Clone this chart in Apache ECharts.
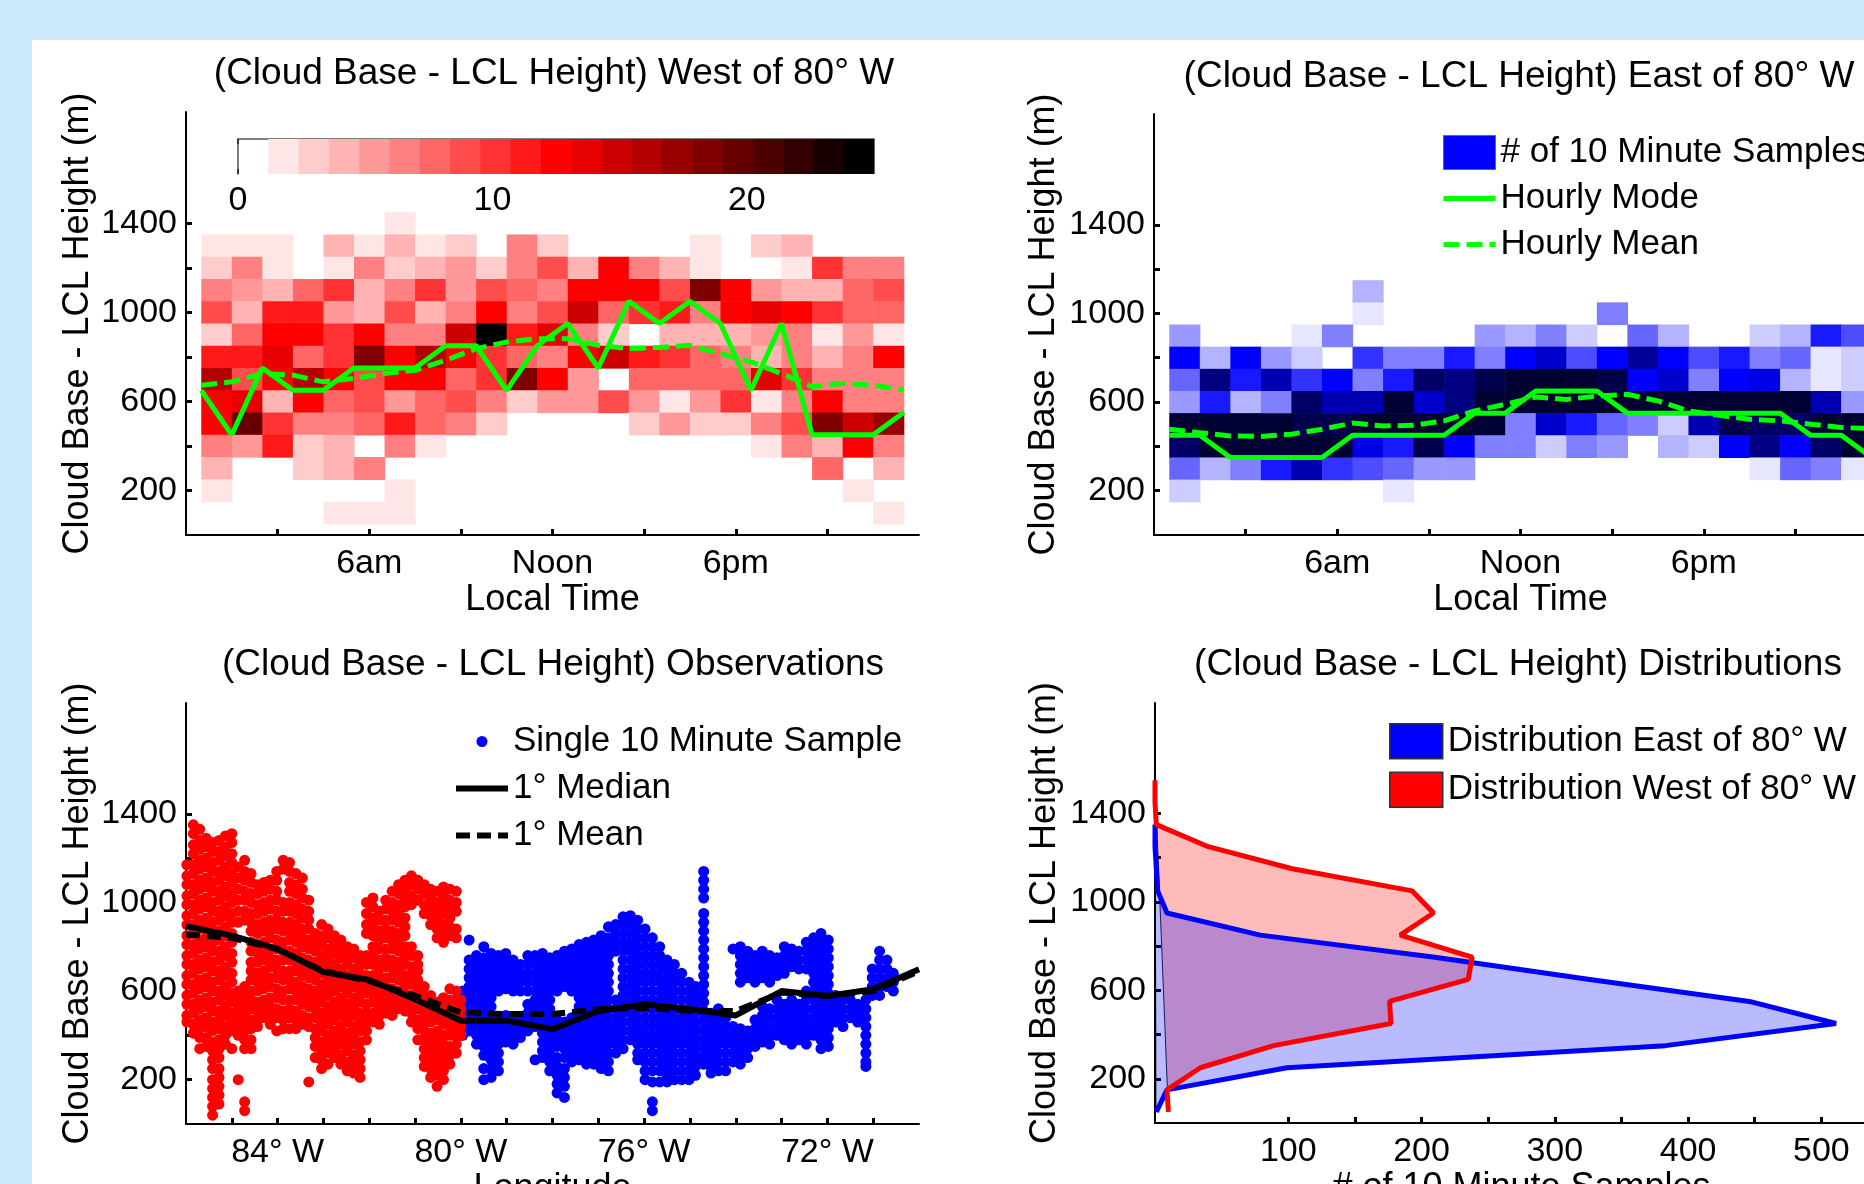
<!DOCTYPE html>
<html><head><meta charset="utf-8">
<script src="https://cdn.jsdelivr.net/npm/echarts@6/dist/echarts.min.js"></script>
<style>
html,body{margin:0;padding:0;width:1864px;height:1184px;overflow:hidden;background:#cceafb;}
#panel{position:absolute;left:32px;top:40px;right:0;bottom:0;background:#fff;}
#chart{position:absolute;left:0;top:0;width:1864px;height:1184px;}
</style></head><body><div id="panel"></div><div id="chart"></div>
<script>
// ---------- DATA ----------
const hourCenters = [1,2,3,4,5,6,7,8,9,10,11,12,13,14,15,16,17,18,19,20,21,22,23];
const heightBins = [1400,1300,1200,1100,1000,900,800,700,600,500,400,300,200,100];
// counts of 10-minute samples per (height bin row, hour column), West of 80W
const westCounts = [
 [0,0,0,0,0,0,2,0,0,0,0,0,0,0,0,0,0,0,0,0,0,0,0],
 [2,2,2,0,4,2,4,2,3,0,7,3,0,0,0,0,2,0,3,4,0,0,0],
 [3,7,2,0,2,7,3,4,5,3,7,9,4,13,7,4,2,0,0,2,10,7,7],
 [7,5,4,8,10,4,7,10,5,9,8,7,13,13,13,9,18,13,5,4,4,8,9],
 [9,4,11,11,5,4,9,4,7,13,7,9,15,8,10,11,7,13,14,13,10,8,8],
 [3,8,13,13,10,13,7,7,15,25,11,14,7,3,0,4,4,4,5,7,2,5,2],
 [11,11,14,8,10,18,13,16,13,10,8,7,13,15,11,10,8,7,4,7,4,7,13],
 [16,9,13,16,13,9,13,13,8,10,18,13,5,0,8,8,8,8,14,10,7,7,7],
 [13,14,4,13,8,9,5,8,9,7,3,5,5,9,5,2,5,10,2,7,13,7,7],
 [13,20,10,7,7,8,11,8,7,3,0,0,0,0,3,5,3,3,7,9,18,15,17],
 [7,5,11,3,4,0,7,2,0,0,0,0,0,0,0,0,0,0,2,7,4,13,7],
 [4,0,0,3,4,7,0,0,0,0,0,0,0,0,0,0,0,0,0,0,8,0,4],
 [2,0,0,0,0,0,2,0,0,0,0,0,0,0,0,0,0,0,0,0,0,2,0],
 [0,0,0,0,2,2,2,0,0,0,0,0,0,0,0,0,0,0,0,0,0,0,2]
];
// East of 80W
const eastCounts = [
 [0,0,0,0,0,0,0,0,0,0,0,0,0,0,0,0,0,0,0,0,0,0,0],
 [0,0,0,0,0,0,0,0,0,0,0,0,0,0,0,0,0,0,0,0,0,0,0],
 [0,0,0,0,0,0,0,0,0,0,0,0,0,0,0,0,0,0,0,0,0,0,0],
 [0,0,0,0,0,0,4,0,0,0,0,0,0,0,0,0,0,0,0,0,0,0,0],
 [0,0,0,0,0,0,2,0,0,0,0,0,0,0,7,0,0,0,0,0,0,0,0],
 [5,0,0,0,2,7,0,0,0,0,5,4,7,3,0,8,4,0,0,3,4,11,9],
 [13,4,13,5,3,0,10,7,7,11,7,13,15,9,13,17,13,9,11,7,8,2,3],
 [8,18,11,16,10,13,7,11,20,18,21,22,22,22,21,13,15,7,13,14,4,2,3],
 [5,11,4,7,20,16,16,22,15,18,22,22,22,22,22,22,22,22,22,22,22,16,5],
 [22,22,22,22,21,21,22,22,22,22,22,7,15,11,8,7,3,16,21,20,20,22,22],
 [20,22,22,22,22,22,14,11,21,13,7,7,3,7,5,0,4,3,13,18,13,20,22],
 [8,4,7,11,16,10,9,8,5,5,0,0,0,0,0,0,0,0,0,2,8,7,2],
 [3,0,0,0,0,0,0,2,0,0,0,0,0,0,0,0,0,0,0,0,0,0,0],
 [0,0,0,0,0,0,0,0,0,0,0,0,0,0,0,0,0,0,0,0,0,0,0]
];
const lineHours = [0.5,1.5,2.5,3.5,4.5,5.5,6.5,7.5,8.5,9.5,10.5,11.5,12.5,13.5,14.5,15.5,16.5,17.5,18.5,19.5,20.5,21.5,22.5,23.5];
const westMode = [650,450,750,650,650,750,750,750,850,850,650,850,950,750,1050,950,1050,950,650,950,450,450,450,550];
const westMean = [673,688,725,718,688,703,725,740,785,837,867,882,882,852,837,842,852,815,778,725,666,681,673,651];
const eastMode = [450,450,350,350,350,350,450,450,450,450,550,550,650,650,650,550,550,550,550,550,550,450,450,350];
const eastMean = [477,462,447,445,455,477,505,492,495,515,560,590,623,612,627,635,605,560,540,522,515,500,485,480];
const timeTickValues = [6,12,18];
const timeTickLabels = ['6am','Noon','6pm'];
const colorbarTicks = [0,10,20];
const colorLevels = [0,1,2,3,4,5,6,7,8,9,10,11,12,13,14,15,16,17,18,19,20];
const lonNodes = [-86,-85,-84,-83,-82,-81,-80,-79,-78,-77,-76,-75,-74,-73,-72,-71,-70];
const lonMedian = [893,850,790,686,650,563,466,466,428,510,540,518,490,600,578,608,698];
const lonMean = [855,840,788,690,645,578,503,496,496,518,525,510,510,593,578,600,690];
const lonLabelValues = [-84,-80,-76,-72];
// single 10-minute samples: [longitude, [heights...]]
const westObs = [
 [-85.98,[1170,1120,1080,1030,990,940,900,850,810,760,720,670,630,580,540,490,460]],
 [-85.84,[1350,1310,1260,1220,1170,1130,1080,1040,990,950,900,860,810,770,720,680,630,590,540,500,450,410]],
 [-85.70,[1330,1280,1240,1190,1150,1100,1060,1010,970,920,880,830,790,740,700,650,610,560,520,470,430,390,340]],
 [-85.56,[1290,1250,1200,1160,1110,1070,1020,980,930,890,840,800,750,710,660,620,570,530,480,440,390,350]],
 [-85.42,[1270,1230,1180,1140,1090,1050,1000,960,910,870,820,780,730,690,640,600,550,510,460,420,370,330,290,250,200,160,120,80,40]],
 [-85.28,[1280,1230,1190,1140,1100,1050,1010,960,920,870,830,780,740,690,650,600,560,510,470,430,380,340,300,250,210,170,130,90]],
 [-85.14,[1300,1250,1210,1160,1120,1070,1030,980,940,890,850,800,760,710,670,620,580,530,490,440,400,360]],
 [-85.00,[1310,1270,1220,1180,1130,1090,1040,1000,950,910,860,820,770,730,680,640,590,550,500,460,420,340]],
 [-84.86,[1160,1110,1060,1010,960,910,600,560,520,480,440,400,200]],
 [-84.72,[1190,1140,1100,1050,1010,960,920,620,580,540,500,460,420,380,340,100,60]],
 [-84.58,[1130,1090,1040,1000,950,910,870,820,780,730,690,650,600,560,520,470,430,380,340]],
 [-84.44,[1080,1040,990,950,900,860,810,770,730,680,640,600,550,510,470,440]],
 [-84.30,[1090,1050,1000,960,910,870,820,780,740,690,650,610,560,520,480]],
 [-84.16,[1100,1060,1010,970,920,880,840,790,750,710,660,620,570,530,490,450]],
 [-84.02,[1140,1100,1050,1010,960,920,880,830,790,740,700,660,610,570,520,480,420]],
 [-83.88,[1190,1150,1000,960,910,870,820,780,740,690,650,600,560,510,470,430]],
 [-83.74,[1180,1140,1090,1050,1000,960,910,870,830,780,740,690,650,610,560,520,480,430]],
 [-83.60,[1130,1080,1040,990,950,900,860,820,770,730,690,640,600,560,510,470,430]],
 [-83.46,[1110,1060,1020,970,930,880,840,800,750,710,670,620,580,540,490,450]],
 [-83.32,[1010,960,920,880,830,790,740,700,660,610,570,530,480,440,190]],
 [-83.18,[860,820,780,730,690,650,600,560,520,480,430,390,350,300]],
 [-83.04,[900,850,810,760,720,680,630,590,550,500,460,420,370,330,290,250]],
 [-82.90,[880,840,790,750,710,660,620,580,530,490,450,400,360,320,270]],
 [-82.76,[850,810,770,720,680,640,600,550,510,470,420,380,340,300]],
 [-82.62,[830,790,750,700,660,620,570,530,490,440,400,360,310,270]],
 [-82.48,[800,760,720,670,630,590,540,500,460,410,370,330,280,240]],
 [-82.34,[790,750,700,660,620,570,530,490,440,400,360,310,270,230]],
 [-82.20,[760,720,680,630,590,550,500,460,420,370,330,290,250,210]],
 [-82.06,[1000,950,900,860,760,720,670,630,590,540,500,460,420,380]],
 [-81.92,[1020,980,930,890,850,800,760,720,670,630,590,550,500,460]],
 [-81.78,[960,920,870,830,790,740,700,660,610,570,530,490,450]],
 [-81.64,[1010,970,920,880,840,790,750,710,660,620,580,540,500]],
 [-81.50,[1050,1000,960,920,870,830,790,740,700,660,610,570,530,490]],
 [-81.36,[1080,1040,990,950,910,860,820,780,730,690,650,600,560,520]],
 [-81.22,[1100,1060,1020,980,930,890,850,800,760,720,670,630,590,550,510]],
 [-81.08,[1120,1080,1030,990,800,760,710,670,630,580,540,500,460]],
 [-80.94,[1100,1060,1010,760,720,690,650,610,560,520,470,430,380]],
 [-80.80,[1080,1040,990,950,620,580,540,500,460,420,380,340,300,260]],
 [-80.66,[1060,1020,980,940,900,580,540,500,460,410,370,330,290,250,210]],
 [-80.52,[1050,1000,960,920,880,840,550,510,470,420,380,340,300,260,220,170]],
 [-80.38,[1070,1030,990,950,900,860,820,570,530,490,450,400,360,320,280,240,200]],
 [-80.24,[1060,1010,970,930,890,850,610,560,520,480,440,400,350,310,270]],
 [-80.10,[1050,1000,960,880,840,600,560,520,480,440,400,360,320]],
 [-80.00,[560,520,480,440,400]]
];
const eastObs = [
 [-79.96,[600,560,520,480,440,400]],
 [-79.82,[830,740,700,660,620,580,540,500,460,420]],
 [-79.66,[760,720,680,640,600,560,520,480,440,400,360]],
 [-79.50,[800,750,710,670,630,590,550,510,470,430,390,350,310,250,200]],
 [-79.34,[770,730,690,650,610,570,530,490,450,410,370,330,290,250,210]],
 [-79.18,[760,720,680,640,600,480,440,400,360,320,280,240]],
 [-79.02,[770,730,690,650,610,490,450,410,370]],
 [-78.86,[740,700,660,620,600,480,440,400,360]],
 [-78.70,[720,680,640,600,470,430,390]],
 [-78.54,[760,720,680,640,600,540,500,460,420]],
 [-78.38,[760,720,680,640,600,560,520,480,440,290]],
 [-78.22,[770,730,690,650,610,570,530,490,450,410,370,330,300]],
 [-78.06,[750,710,670,630,600,560,520,480,440,400,360,320,280,240]],
 [-77.90,[760,720,680,640,600,470,430,390,350,300,260,220,180,140]],
 [-77.74,[780,740,700,660,620,460,420,380,340,300,250,210,170,120]],
 [-77.58,[790,750,710,670,630,600,480,440,400,360,320,280]],
 [-77.42,[810,770,730,690,650,610,570,530,490,450,410,370,330,290]],
 [-77.26,[820,780,740,700,660,620,580,540,500,460,420,380,340,300,270]],
 [-77.10,[830,790,750,710,670,630,590,550,510,470,430,390,350,310,270]],
 [-76.94,[850,810,770,730,690,650,610,570,530,490,450,410,370,330,290,250]],
 [-76.78,[890,840,800,760,720,680,640,600,560,520,480,440,400,360,320,280,240]],
 [-76.62,[900,860,820,780,560,520,480,440,400,360,320]],
 [-76.46,[935,900,860,820,780,740,700,660,620,580,540,500,460,420,380,340]],
 [-76.30,[940,900,860,820,780,740,700,660,620,580,540,500,460,420,380]],
 [-76.14,[920,880,840,800,760,720,680,640,600,560,520,480,440,400,360,320,290]],
 [-75.98,[880,840,800,760,720,680,640,600,560,520,480,440,400,360,320,280,240,200]],
 [-75.82,[840,800,760,720,680,640,600,560,520,480,440,400,360,320,280,240,190,100,60]],
 [-75.66,[800,760,720,680,640,600,560,520,480,440,400,360,320,280,240,190]],
 [-75.50,[740,700,660,620,580,540,500,460,420,380,340,300,260,220,190]],
 [-75.34,[720,680,640,600,560,520,480,440,400,360,320,280,240,200]],
 [-75.18,[680,640,600,560,520,480,440,400,360,320,280,240,200]],
 [-75.02,[640,600,560,520,480,440,400,360,320,280,240,200]],
 [-74.88,[620,580,540,500,460,420,380,340,300,260,220]],
 [-74.70,[1140,1100,1060,1020,950,910,870,830,790,750,710,670,630,590,550,510,470,430,390,350,310,270]],
 [-74.54,[500,460,420,380,340,300,260,230]],
 [-74.38,[520,480,440,400,360,320,280,240]],
 [-74.22,[480,440,400,360,320,280,240]],
 [-74.06,[790,440,400,360,320,280]],
 [-73.90,[800,760,720,680,640,430,390,350,310,270]],
 [-73.74,[780,740,700,660,420,380,340,300]],
 [-73.58,[760,720,680,640,470,430,390,350]],
 [-73.42,[780,740,700,660,530,490,450,410,370]],
 [-73.26,[760,720,680,640,520,480,440,400,360]],
 [-73.10,[750,710,670,560,520,480,440,400]],
 [-72.94,[800,760,720,680,540,500,460,420,380]],
 [-72.78,[790,750,710,560,520,480,440,400,360]],
 [-72.62,[780,740,700,540,500,460,420,380]],
 [-72.46,[820,780,740,700,600,560,520,480,440,400,360]],
 [-72.30,[840,800,760,720,680,640,600,560,520,480,440,400]],
 [-72.14,[860,820,780,740,700,660,620,580,540,500,460,420,380,340]],
 [-71.98,[830,790,750,710,670,630,590,550,510,470,430,390,350]],
 [-71.82,[580,540,500,460]],
 [-71.66,[560,520,480,440]],
 [-71.50,[560,520,480]],
 [-71.34,[540,500,460]],
 [-71.16,[560,520,480,440,400,360,320,280,260]],
 [-71.02,[700,660,620,580]],
 [-70.86,[780,740,700,660,620,580]],
 [-70.70,[740,700,660,620]],
 [-70.56,[680,640,600]]
];
const distBins = [50,150,250,350,450,550,650,750,850,950,1050,1150,1250,1350,1450,1550];
const distWest = [10,9,34,89,177,176,235,238,184,209,193,103,40,1,0,0];
const distEast = [1,9,99,383,511,446,325,210,79,9,2,1,0,0];

// ---------- STYLE / HELPERS ----------
const FF = 'Liberation Sans, Arial, sans-serif';
const CMAX = 25, NLEV = 21, HOUR_HALF = 0.5, BIN_HALF = 50;
function level(c){ return Math.min(NLEV-1, Math.floor(c*NLEV/CMAX)); }
function redColor(L){ if(L<=10){const v=Math.round(255*(1-L/10));return 'rgb(255,'+v+','+v+')';} const r=Math.round(255*(1-(L-10)/10)); return 'rgb('+r+',0,0)'; }
function blueColor(L){ if(L<=10){const v=Math.round(255*(1-L/10));return 'rgb('+v+','+v+',255)';} const b=Math.max(51,Math.round(255-(L-10)*25.5)); return 'rgb(0,0,'+b+')'; }

function cells(matrix){
  const out=[];
  matrix.forEach((row,ri)=>row.forEach((c,ci)=>{ if(c>0) out.push([hourCenters[ci], heightBins[ri], c]); }));
  return out;
}
function cellRender(colorFn){
  return function(params, api){
    const x=api.value(0), y=api.value(1), c=api.value(2);
    const p0=api.coord([x-HOUR_HALF, y+BIN_HALF]), p1=api.coord([x+HOUR_HALF, y-BIN_HALF]);
    return {type:'rect', shape:{x:p0[0], y:p0[1], width:p1[0]-p0[0]+0.6, height:p1[1]-p0[1]+0.6}, style:{fill:colorFn(level(c))}};
  };
}
function flatten(cols){ const out=[]; cols.forEach(([lon,hs])=>hs.forEach(h=>out.push([lon,h]))); return out; }
function zip(xs, ys){ return ys.map((y,i)=>[xs[i], y]); }
const westPoly = distWest.map((c,i)=>[c, distBins[i]]);
const eastPoly = distEast.map((c,i)=>[c, distBins[i]]);
function polyRender(points, fill, stroke){
  return function(params, api){
    if(params.dataIndex!==0) return null;
    return {type:'polygon', shape:{points:points.map(p=>api.coord(p))}, style:{fill:fill, stroke:stroke, lineWidth:1}};
  };
}

const yTickVals=[200,400,600,800,1000,1200,1400], yLabelVals=[200,600,1000,1400];
function yAx(gi, gap){
  return {gridIndex:gi, type:'value', min:0, max:1900, interval:100,
    name:'Cloud Base - LCL Height (m)', nameLocation:'middle', nameGap:gap, nameRotate:90,
    nameTextStyle:{fontSize:36, color:'#000', fontFamily:FF},
    axisLine:{show:true, onZero:false, lineStyle:{color:'#000', width:2}},
    axisTick:{show:true, inside:true, length:6, lineStyle:{color:'#000', width:3}, customValues:yTickVals},
    axisLabel:{show:true, customValues:yLabelVals, fontSize:34, color:'#000', margin:9, fontFamily:FF, formatter:v=>String(v)},
    splitLine:{show:false}};
}
function timeAx(gi){
  return {gridIndex:gi, type:'value', min:0, max:24, interval:3,
    name:'Local Time', nameLocation:'middle', nameGap:47, nameTextStyle:{fontSize:36, color:'#000', fontFamily:FF},
    axisLine:{show:true, onZero:false, lineStyle:{color:'#000', width:2}},
    axisTick:{show:true, inside:true, length:6, lineStyle:{color:'#000', width:3}, customValues:[3,6,9,12,15,18,21]},
    axisLabel:{show:true, customValues:timeTickValues, fontSize:34, color:'#000', margin:12, fontFamily:FF,
      formatter:v=>{const i=timeTickValues.indexOf(v); return i>=0?timeTickLabels[i]:'';}},
    splitLine:{show:false}};
}
const lonTicks=[-85,-84,-83,-82,-81,-80,-79,-78,-77,-76,-75,-74,-73,-72,-71];
const noDot = {color:'rgba(0,0,0,0)', borderColor:'rgba(0,0,0,0)', borderWidth:0};

const option = {
  animation:false,
  textStyle:{fontFamily:FF},
  graphic:[
    {type:'text', x:554, y:74, style:{text:'(Cloud Base - LCL Height) West of 80° W', fontSize:37, fontFamily:FF, fill:'#000', align:'center', verticalAlign:'middle'}},
    {type:'text', x:1519, y:77, style:{text:'(Cloud Base - LCL Height) East of 80° W', fontSize:37, fontFamily:FF, fill:'#000', align:'center', verticalAlign:'middle'}},
    {type:'text', x:553, y:665, style:{text:'(Cloud Base - LCL Height) Observations', fontSize:37, fontFamily:FF, fill:'#000', align:'center', verticalAlign:'middle'}},
    {type:'text', x:1518, y:665, style:{text:'(Cloud Base - LCL Height) Distributions', fontSize:37, fontFamily:FF, fill:'#000', align:'center', verticalAlign:'middle'}}
  ],
  grid:[
    {left:186, top:112, width:733, height:423, outerBoundsMode:'none', containLabel:false},
    {left:1154, top:114, width:733, height:421, outerBoundsMode:'none', containLabel:false},
    {left:186, top:703, width:733, height:421, outerBoundsMode:'none', containLabel:false},
    {left:1155, top:703, width:733, height:420, outerBoundsMode:'none', containLabel:false},
    {left:238, top:139, width:636, height:35, outerBoundsMode:'none', containLabel:false}
  ],
  xAxis:[
    timeAx(0),
    timeAx(1),
    {gridIndex:2, type:'value', min:-86, max:-70, interval:1,
      name:'Longitude', nameLocation:'middle', nameGap:47, nameTextStyle:{fontSize:36, color:'#000', fontFamily:FF},
      axisLine:{show:true, onZero:false, lineStyle:{color:'#000', width:2}},
      axisTick:{show:true, inside:true, length:6, lineStyle:{color:'#000', width:3}, customValues:lonTicks},
      axisLabel:{show:true, customValues:lonLabelValues, fontSize:34, color:'#000', margin:12, fontFamily:FF, formatter:v=>Math.abs(v)+'° W'},
      splitLine:{show:false}},
    {gridIndex:3, type:'value', min:0, max:550, interval:50,
      name:'# of 10 Minute Samples', nameLocation:'middle', nameGap:47, nameTextStyle:{fontSize:36, color:'#000', fontFamily:FF},
      axisLine:{show:true, onZero:false, lineStyle:{color:'#000', width:2}},
      axisTick:{show:true, inside:true, length:6, lineStyle:{color:'#000', width:3}, customValues:[100,150,200,250,300,350,400,450,500]},
      axisLabel:{show:true, customValues:[100,200,300,400,500], fontSize:34, color:'#000', margin:12, fontFamily:FF},
      splitLine:{show:false}},
    {gridIndex:4, type:'value', min:0, max:CMAX, position:'bottom',
      axisLine:{show:false},
      axisTick:{show:true, inside:true, length:5, lineStyle:{color:'#222', width:1.5}, customValues:colorbarTicks},
      axisLabel:{show:true, customValues:colorbarTicks, fontSize:34, color:'#000', margin:10, fontFamily:FF},
      splitLine:{show:false}},
    {gridIndex:4, type:'value', min:0, max:CMAX, position:'top',
      axisLine:{show:true, lineStyle:{color:'#555', width:1.5}},
      axisTick:{show:true, inside:true, length:5, lineStyle:{color:'#222', width:1.5}, customValues:colorbarTicks},
      axisLabel:{show:false}, splitLine:{show:false}}
  ],
  yAxis:[
    yAx(0, 90), yAx(1, 92), yAx(2, 90), yAx(3, 92),
    {gridIndex:4, type:'value', min:0, max:1, axisLine:{show:true, lineStyle:{color:'#555', width:1.5}}, axisTick:{show:false}, axisLabel:{show:false}, splitLine:{show:false}}
  ],
  legend:[
    {orient:'vertical', left:1441, top:135, padding:0, itemWidth:52, itemHeight:34, itemGap:11, selectedMode:false,
     textStyle:{fontSize:35, color:'#000', fontFamily:FF},
     data:[{name:'# of 10 Minute Samples', icon:'rect', itemStyle:{color:'#0000ff', borderColor:'#5555ff', borderWidth:1}},
           {name:'Hourly Mode', itemStyle:noDot, lineStyle:{width:5}}, {name:'Hourly Mean', itemStyle:noDot, lineStyle:{width:5}}]},
    {orient:'vertical', left:453, top:724, padding:0, itemWidth:52, itemHeight:11, itemGap:12, selectedMode:false,
     textStyle:{fontSize:35, color:'#000', fontFamily:FF},
     data:[{name:'Single 10 Minute Sample', icon:'circle'}, {name:'1° Median', itemStyle:noDot, lineStyle:{width:6}}, {name:'1° Mean', itemStyle:noDot, lineStyle:{width:6}}]},
    {orient:'vertical', left:1389, top:723, padding:0, itemWidth:53, itemHeight:35, itemGap:12, selectedMode:false,
     textStyle:{fontSize:35, color:'#000', fontFamily:FF},
     data:[{name:'Distribution East of 80° W', icon:'rect', itemStyle:{color:'#0000ff', borderColor:'#333', borderWidth:1.5}},
           {name:'Distribution West of 80° W', icon:'rect', itemStyle:{color:'#ff0000', borderColor:'#333', borderWidth:1.5}}]}
  ],
  series:[
    {type:'custom', name:'West Samples Grid', xAxisIndex:0, yAxisIndex:0, renderItem:cellRender(redColor), data:cells(westCounts), encode:{x:0,y:1}, silent:true, z:1},
    {type:'line', name:'West Hourly Mode', xAxisIndex:0, yAxisIndex:0, data:zip(lineHours, westMode), symbol:'none', lineStyle:{color:'#00ff00', width:5}, itemStyle:{color:'#00ff00'}, silent:true, z:3},
    {type:'line', name:'West Hourly Mean', xAxisIndex:0, yAxisIndex:0, data:zip(lineHours, westMean), symbol:'none', lineStyle:{color:'#00ff00', width:5, type:[16,7]}, itemStyle:{color:'#00ff00'}, silent:true, z:3},
    {type:'custom', name:'# of 10 Minute Samples', xAxisIndex:1, yAxisIndex:1, renderItem:cellRender(blueColor), data:cells(eastCounts), encode:{x:0,y:1}, itemStyle:{color:'#0000ff'}, silent:true, z:1},
    {type:'line', name:'Hourly Mode', xAxisIndex:1, yAxisIndex:1, data:zip(lineHours, eastMode), symbol:'none', lineStyle:{color:'#00ff00', width:5}, itemStyle:{color:'#00ff00'}, silent:true, z:3},
    {type:'line', name:'Hourly Mean', xAxisIndex:1, yAxisIndex:1, data:zip(lineHours, eastMean), symbol:'none', lineStyle:{color:'#00ff00', width:5, type:[16,7]}, itemStyle:{color:'#00ff00'}, silent:true, z:3},
    {type:'scatter', name:'Single 10 Minute Sample', xAxisIndex:2, yAxisIndex:2, data:flatten(eastObs), symbol:'circle', symbolSize:11, itemStyle:{color:'#0000ff', opacity:1}, silent:true, z:1},
    {type:'scatter', name:'West Single Samples', xAxisIndex:2, yAxisIndex:2, data:flatten(westObs), symbol:'circle', symbolSize:11, itemStyle:{color:'#ff0000', opacity:1}, silent:true, z:1},
    {type:'line', name:'1° Mean', xAxisIndex:2, yAxisIndex:2, data:zip(lonNodes, lonMean), symbol:'none', lineStyle:{color:'#000', width:6, type:[14,7]}, itemStyle:{color:'#000'}, silent:true, z:3},
    {type:'line', name:'1° Median', xAxisIndex:2, yAxisIndex:2, data:zip(lonNodes, lonMedian), symbol:'none', lineStyle:{color:'#000', width:6}, itemStyle:{color:'#000'}, silent:true, z:3},
    {type:'custom', name:'Distribution West of 80° W', xAxisIndex:3, yAxisIndex:3, renderItem:polyRender(westPoly,'rgba(255,0,0,0.27)','rgba(0,0,0,0.85)'), data:[[0,0]], encode:{x:0,y:1}, itemStyle:{color:'#ff0000'}, silent:true, z:1},
    {type:'custom', name:'Distribution East of 80° W', xAxisIndex:3, yAxisIndex:3, renderItem:polyRender(eastPoly,'rgba(0,0,255,0.27)','rgba(0,0,0,0.5)'), data:[[0,0]], encode:{x:0,y:1}, itemStyle:{color:'#0000ff'}, silent:true, z:1},
    {type:'line', name:'East Distribution Line', xAxisIndex:3, yAxisIndex:3, data:eastPoly, symbol:'none', lineStyle:{color:'#0000ff', width:5}, itemStyle:{color:'#0000ff'}, silent:true, z:3},
    {type:'line', name:'West Distribution Line', xAxisIndex:3, yAxisIndex:3, data:westPoly, symbol:'none', lineStyle:{color:'#ff0000', width:5}, itemStyle:{color:'#ff0000'}, silent:true, z:3},
    {type:'custom', name:'Colorbar', xAxisIndex:4, yAxisIndex:4,
     renderItem:function(params, api){
       const L=api.value(2); if(L<1) return null;
       const p0=api.coord([L*CMAX/NLEV, 1]), p1=api.coord([(L+1)*CMAX/NLEV, 0]);
       return {type:'rect', shape:{x:p0[0], y:p0[1], width:p1[0]-p0[0]+0.6, height:p1[1]-p0[1]}, style:{fill:redColor(L)}};
     },
     data:colorLevels.map(L=>[L*CMAX/NLEV, 0.5, L]), encode:{x:0,y:1}, silent:true, z:1}
  ]
};
const chart = echarts.init(document.getElementById('chart'), null, {renderer:'canvas'});
chart.setOption(option);
</script></body></html>
